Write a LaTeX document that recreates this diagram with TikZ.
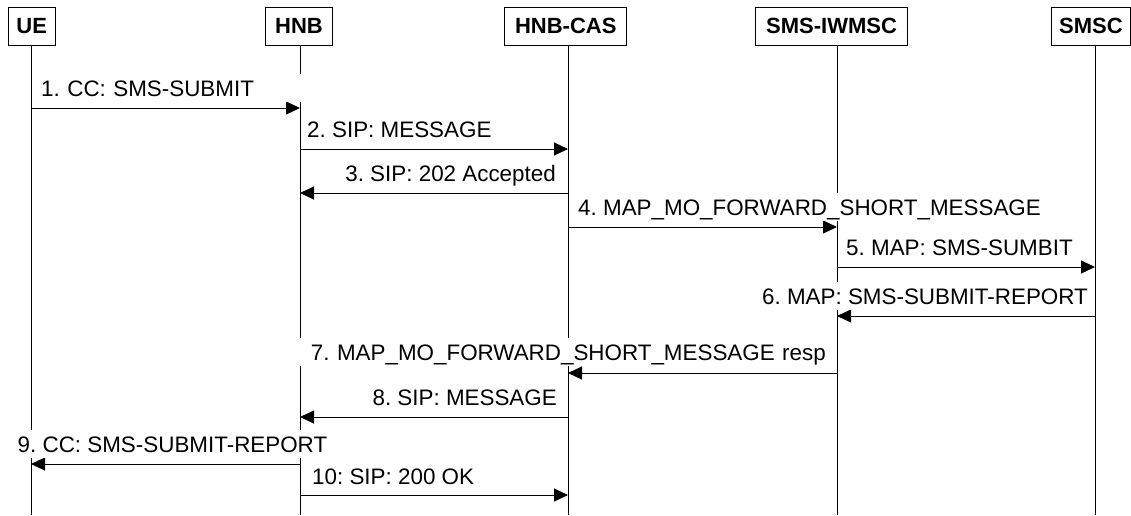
\documentclass[tikz,border=0pt]{standalone}
\usepackage{fontspec}
\setmainfont{Liberation Sans}
\usetikzlibrary{arrows.meta}
\frenchspacing
\begin{document}
\begin{tikzpicture}[x=1pt,y=-1pt,
  actor/.style={draw, line width=1pt, inner sep=0pt, minimum height=38pt,
    font=\fontsize{22}{24}\selectfont\bfseries},
  life/.style={line width=1pt},
  msg/.style={line width=1pt, -{Triangle[length=14pt,width=13pt]}},
  lbl/.style={fill=white, inner xsep=3pt, inner ysep=6pt, text height=16pt,
    text depth=0pt, font=\fontsize{22.4}{26}\selectfont\frenchspacing}]
\useasboundingbox (0,0) rectangle (1131,515);

% actors
\node[actor, minimum width=47pt]    (ue)   at (31.7,26)  {UE};
\node[actor, minimum width=66.6pt]  (hnb)  at (299,26)   {HNB};
\node[actor, minimum width=121.7pt] (cas)  at (565.8,26) {HNB-CAS};
\node[actor, minimum width=151.3pt] (iw)   at (831.6,26) {SMS-IWMSC};
\node[actor, minimum width=78.5pt]  (smsc) at (1091,26)  {SMSC};

% lifelines
\coordinate (ueT)   at (31,45);    \coordinate (ueB)   at (31,515);
\coordinate (hnbT)  at (300,45);   \coordinate (hnbB)  at (300,515);
\coordinate (casT)  at (568,45);   \coordinate (casB)  at (568,515);
\coordinate (iwT)   at (837,45);   \coordinate (iwB)   at (837,515);
\coordinate (smscT) at (1095,45);  \coordinate (smscB) at (1095,515);
\draw[life] (ueT) -- (ueB);
\draw[life] (hnbT) -- (hnbB);
\draw[life] (casT) -- (casB);
\draw[life] (iwT) -- (iwB);
\draw[life] (smscT) -- (smscB);

% messages
\draw[msg] (ueT |- 0,108)   -- (hnbT |- 0,108);
\draw[msg] (hnbT |- 0,149)  -- (casT |- 0,149);
\draw[msg] (casT |- 0,193)  -- (hnbT |- 0,193);
\draw[msg] (casT |- 0,227)  -- (iwT |- 0,227);
\draw[msg] (iwT |- 0,267)   -- (smscT |- 0,267);
\draw[msg] (smscT |- 0,316) -- (iwT |- 0,316);
\draw[msg] (iwT |- 0,373)   -- (casT |- 0,373);
\draw[msg] (casT |- 0,417)  -- (hnbT |- 0,417);
\draw[msg] (hnbT |- 0,464)  -- (ueT |- 0,464);
\draw[msg] (hnbT |- 0,495)  -- (casT |- 0,495);

% labels
\node[lbl, anchor=west, text width=258pt, align=left] (l1) at (38,88) {1. CC: SMS-SUBMIT};
\node[lbl, anchor=west] (l2)  at (304,129)  {2. SIP: MESSAGE};
\node[lbl, anchor=east] (l3)  at (559,173)  {3. SIP: 202 Accepted};
\node[lbl, anchor=west] (l4)  at (575,207)  {4. MAP\_MO\_FORWARD\_SHORT\_MESSAGE};
\node[lbl, anchor=west] (l5)  at (843,247)  {5. MAP: SMS-SUMBIT};
\node[lbl, anchor=east] (l6)  at (1091,296) {6. MAP: SMS-SUBMIT-REPORT};
\node[lbl, anchor=east, text width=526pt, align=right] (l7) at (829,352) {7. MAP\_MO\_FORWARD\_SHORT\_MESSAGE resp};
\node[lbl, anchor=east] (l8)  at (560,397)  {8. SIP: MESSAGE};
\node[lbl, anchor=west] (l9)  at (14.5,444) {9. CC: SMS-SUBMIT-REPORT};
\node[lbl, anchor=west] (l10) at (309,476)  {10: SIP: 200 OK};
\end{tikzpicture}
\end{document}
